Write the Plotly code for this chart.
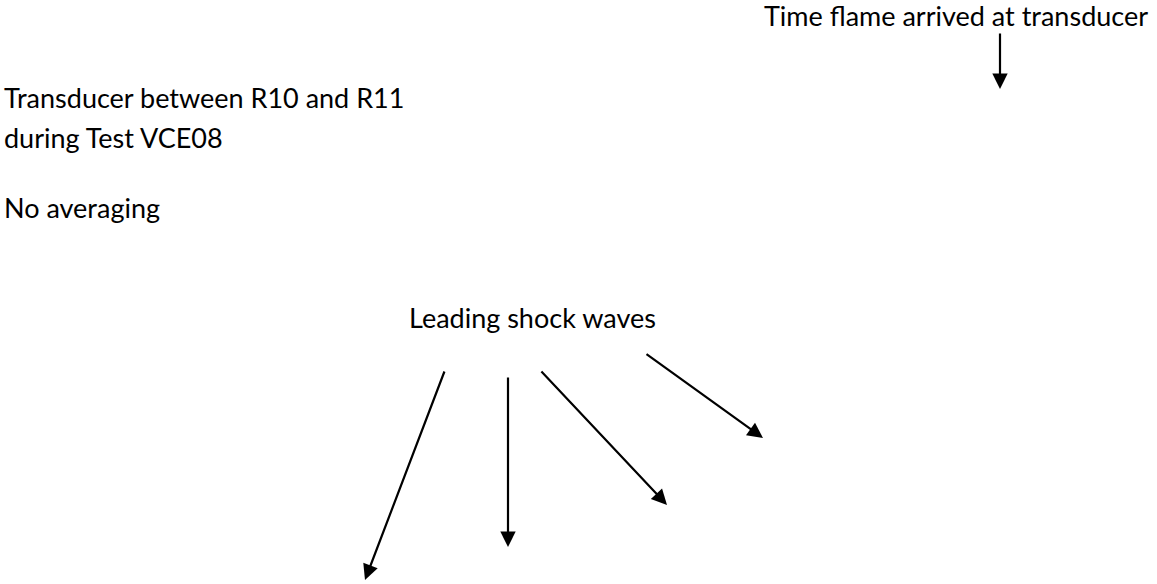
import plotly.graph_objects as go

# Text labels (page pixel coordinates; y = vertical centre of the line)
label_texts = ["Transducer between R10 and R11", "during Test VCE08", "No averaging"]
label_x = [2, 2, 2]
label_y = [97, 137, 207]

title_text = "Time flame arrived at transducer"
title_x = 1150
title_y = 15

shock_text = "Leading shock waves"
shock_x = 532
shock_y = 317

# Arrows: tail (start) and head (tip)
arrow_start_x = [1000, 445, 508, 540, 645]
arrow_start_y = [32, 370, 376, 370, 353]
arrow_end_x = [1000, 365, 508, 667, 763]
arrow_end_y = [89, 580, 547, 505, 438]

W, H = 1157, 584
FONT = "Lato"
FS = 27

fig = go.Figure()
fig.add_trace(go.Scatter(x=[0, W], y=[0, H], mode="markers",
                         marker=dict(opacity=0), hoverinfo="skip", showlegend=False))

anns = []
for t, x, y in zip(label_texts, label_x, label_y):
    anns.append(dict(x=x, y=y, xref="x", yref="y", text=t, showarrow=False,
                     xanchor="left", yanchor="middle",
                     font=dict(family=FONT, size=FS, color="#000000")))
anns.append(dict(x=title_x, y=title_y, xref="x", yref="y", text=title_text,
                 showarrow=False, xanchor="right", yanchor="middle",
                 font=dict(family=FONT, size=FS, color="#000000")))
anns.append(dict(x=shock_x, y=shock_y, xref="x", yref="y", text=shock_text, showarrow=False,
                 xanchor="center", yanchor="middle",
                 font=dict(family=FONT, size=FS, color="#000000")))
for sx, sy, ex, ey in zip(arrow_start_x, arrow_start_y, arrow_end_x, arrow_end_y):
    anns.append(dict(x=ex, y=ey, ax=sx, ay=sy, xref="x", yref="y", axref="x", ayref="y",
                     text="", showarrow=True, arrowhead=2, arrowsize=1.4, arrowwidth=2.2,
                     arrowcolor="#000000", standoff=0, startstandoff=0))

fig.update_layout(
    width=W, height=H,
    margin=dict(l=0, r=0, t=0, b=0),
    paper_bgcolor="white", plot_bgcolor="white",
    xaxis=dict(range=[0, W], visible=False, fixedrange=True),
    yaxis=dict(range=[H, 0], visible=False, fixedrange=True),
    annotations=anns,
    showlegend=False,
)

fig.write_html(
    "out.html",
    config={"displayModeBar": False},
    post_script="document.body.style.margin='0';document.body.style.overflow='hidden';",
)
